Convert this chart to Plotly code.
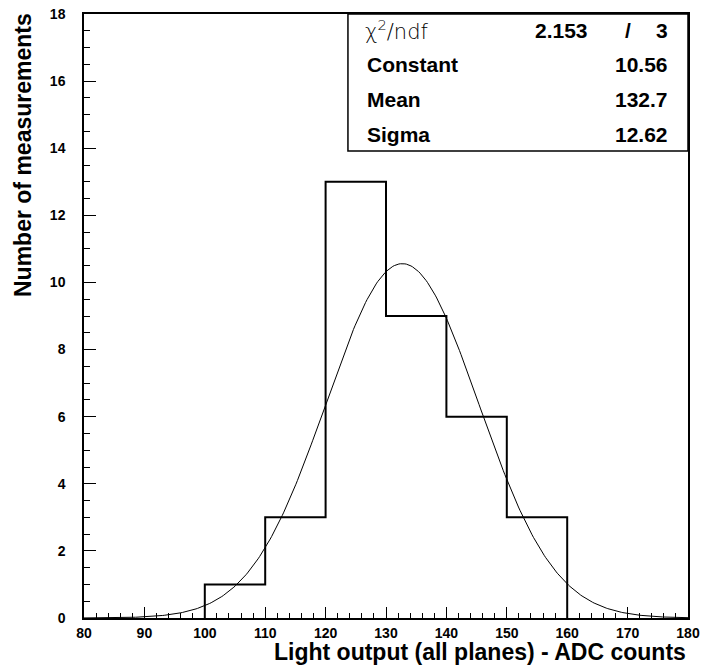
import numpy as np
import plotly.graph_objects as go

# Histogram data
bin_edges = [100, 110, 120, 130, 140, 150, 160]
counts = [1, 3, 13, 9, 6, 3]

# Gaussian fit parameters (from the stats box)
fit_constant = 10.56
fit_mean = 132.7
fit_sigma = 12.62
chi2 = 2.153
ndf = 3

x_ticks = [80, 90, 100, 110, 120, 130, 140, 150, 160, 170, 180]
y_ticks = [0, 2, 4, 6, 8, 10, 12, 14, 16, 18]

FONT = "Liberation Sans, Arial, sans-serif"

# step outline of the histogram
hx, hy = [bin_edges[0]], [0]
for i, c in enumerate(counts):
    hx += [bin_edges[i], bin_edges[i + 1]]
    hy += [c, c]
hx.append(bin_edges[-1])
hy.append(0)

gx = np.linspace(80, 180, 400)
gy = fit_constant * np.exp(-0.5 * ((gx - fit_mean) / fit_sigma) ** 2)

fig = go.Figure()
fig.add_trace(go.Scatter(x=hx, y=hy, mode="lines",
                         line=dict(color="black", width=2), hoverinfo="skip"))
fig.add_trace(go.Scatter(x=gx, y=gy, mode="lines",
                         line=dict(color="black", width=1), hoverinfo="skip"))

axis_common = dict(showgrid=False, zeroline=False, showline=True, linecolor="black",
                   linewidth=1.5, mirror=True, ticks="inside", tickcolor="black",
                   tickwidth=1, automargin=False)

fig.update_xaxes(range=[80, 180], tickvals=x_ticks, ticklen=11,
                 minor=dict(dtick=2, ticks="inside", ticklen=5, tickcolor="black"),
                 tickfont=dict(family=FONT, size=14, color="black", weight="bold"),
                 ticklabelstandoff=1,
                 **axis_common)
fig.update_yaxes(range=[0, 18], tickvals=y_ticks, ticklen=12,
                 minor=dict(dtick=0.5, ticks="inside", ticklen=6, tickcolor="black"),
                 tickfont=dict(family=FONT, size=14, color="black", weight="bold"),
                 ticklabelstandoff=14,
                 **axis_common)

annotations = [
    dict(text="<b>Light output (all planes) - ADC counts</b>", xref="paper", yref="paper",
         x=1, y=0, xanchor="right", yanchor="middle", yshift=-34, showarrow=False,
         font=dict(family=FONT, size=23, color="black")),
    dict(text="<b>Number of measurements</b>", xref="paper", yref="paper",
         x=0, y=1, xanchor="center", yanchor="top", xshift=-61, yshift=3, textangle=-90,
         showarrow=False, font=dict(family=FONT, size=23, color="black")),
]

row_y = [0.9735, 0.917, 0.859, 0.801]
labels = ["Constant", "Mean", "Sigma"]
values = [f"{fit_constant:.2f}", f"{fit_mean:.1f}", f"{fit_sigma:.2f}"]
sfont = dict(family=FONT, size=21, color="black")

annotations.append(dict(text="χ<sup>2</sup>/ndf", xref="paper", yref="paper", x=0.462, y=row_y[0],
                        xanchor="left", yanchor="middle", showarrow=False,
                        font=dict(family="DejaVu Sans", size=21, color="black", weight=200)))
annotations.append(dict(text=f"<b>{chi2:.3f}</b>", xref="paper", yref="paper", x=0.838, y=row_y[0],
                        xanchor="right", yanchor="middle", showarrow=False, font=sfont))
annotations.append(dict(text="<b>/</b>", xref="paper", yref="paper", x=0.901, y=row_y[0],
                        xanchor="center", yanchor="middle", showarrow=False, font=sfont))
annotations.append(dict(text=f"<b>{ndf}</b>", xref="paper", yref="paper", x=0.970, y=row_y[0],
                        xanchor="right", yanchor="middle", showarrow=False, font=sfont))
for lab, val, yy in zip(labels, values, row_y[1:]):
    annotations.append(dict(text=f"<b>{lab}</b>", xref="paper", yref="paper", x=0.465, y=yy,
                            xanchor="left", yanchor="middle", showarrow=False, font=sfont))
    annotations.append(dict(text=f"<b>{val}</b>", xref="paper", yref="paper", x=0.970, y=yy,
                            xanchor="right", yanchor="middle", showarrow=False, font=sfont))

fig.update_layout(
    width=702, height=671,
    margin=dict(l=84, r=14, t=14, b=53),
    plot_bgcolor="white", paper_bgcolor="white",
    showlegend=False,
    annotations=annotations,
    shapes=[dict(type="rect", xref="paper", yref="paper", x0=0.437, x1=1, y0=0.773, y1=1,
                 line=dict(color="black", width=1.5), fillcolor="white", layer="above")],
)

fig.write_html("out.html")
